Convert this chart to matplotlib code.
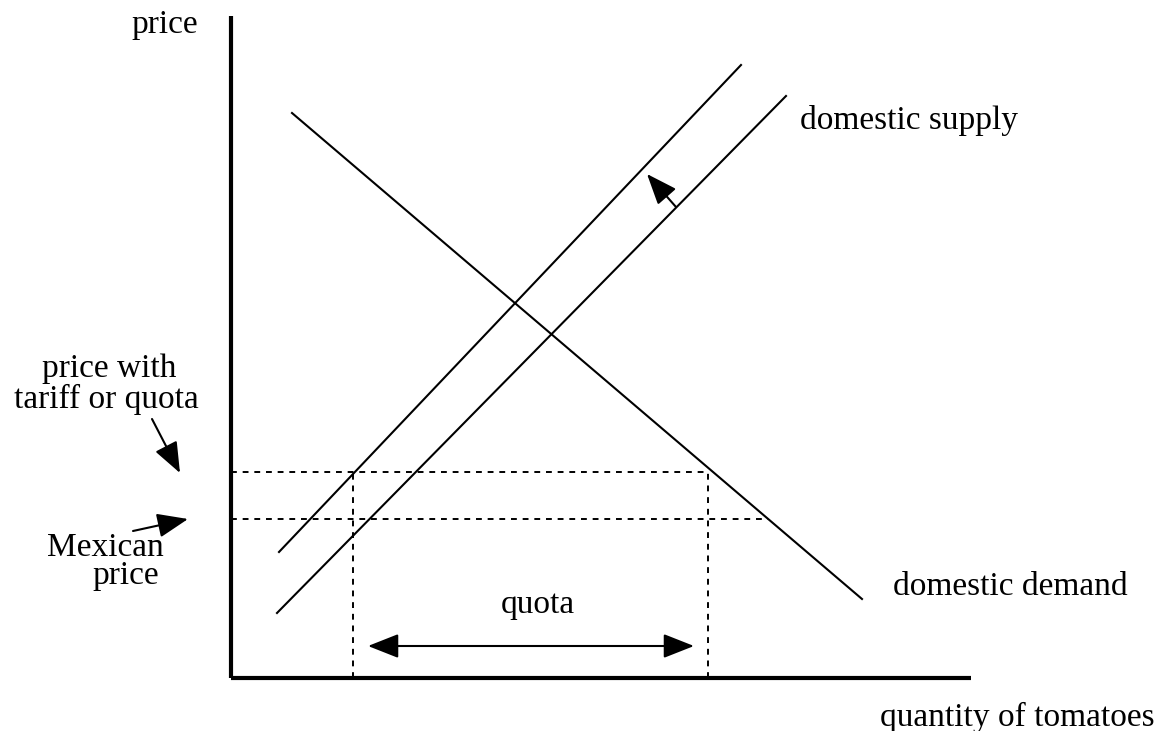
import matplotlib
matplotlib.use("Agg")
import matplotlib.pyplot as plt
from matplotlib.patches import FancyArrowPatch

# Data (quantity, price) in diagram units, origin at the axes corner
demand_q = [61, 631]
demand_p = [565, 79]
supply_q = [46, 555]
supply_p = [65, 582]
shifted_q = [48, 510]
shifted_p = [126, 613]

mexican_price = 159
tariff_price = 206
quota_left = 122
quota_right = 477
mexican_demand_q = 537

axis_q_max = 740
axis_p_max = 662

plt.rcParams["font.family"] = ["Liberation Serif", "DejaVu Serif"]
FS = 24

fig = plt.figure(figsize=(11.69, 7.31), dpi=100)
ax = fig.add_axes([0, 0, 1, 1])
ax.set_xlim(-231, 938)
ax.set_ylim(-53, 678)
ax.axis("off")

# axes
ax.plot([0, 0], [0, axis_p_max], color="black", lw=3, solid_capstyle="butt")
ax.plot([0, axis_q_max], [0, 0], color="black", lw=3, solid_capstyle="butt")

# curves
for q, p in [(demand_q, demand_p), (supply_q, supply_p), (shifted_q, shifted_p)]:
    ax.plot(q, p, color="black", lw=1.5)

# dashed guide lines
dash = dict(color="black", lw=1.4, linestyle=(0, (3, 3)))
ax.plot([0, quota_right], [tariff_price, tariff_price], **dash)
ax.plot([0, mexican_demand_q], [mexican_price, mexican_price], **dash)
ax.plot([quota_left, quota_left], [0, tariff_price], **dash)
ax.plot([quota_right, quota_right], [0, tariff_price], **dash)


def arrow(start, end, style="-|>", hl=19, hw=7.5):
    a = FancyArrowPatch(start, end,
                        arrowstyle=f"{style},head_length={hl},head_width={hw}",
                        mutation_scale=1, color="black", lw=1.5,
                        shrinkA=0, shrinkB=0)
    ax.add_patch(a)


# quota double arrow
arrow((137, 32), (463, 32), style="<|-|>")
# supply shift arrow
arrow((445, 471), (416, 504))
# left pointer arrows
arrow((-79, 259), (-51, 205))
arrow((-98, 147), (-43, 159))

# labels
ax.text(-66, 653, "price", fontsize=FS, ha="center", va="center")
ax.text(-122, 309, "price with", fontsize=FS, ha="center", va="center")
ax.text(-125, 279, "tariff or quota", fontsize=FS, ha="center", va="center")
ax.text(-126, 130, "Mexican", fontsize=FS, ha="center", va="center")
ax.text(-105, 102, "price", fontsize=FS, ha="center", va="center")
ax.text(307, 73, "quota", fontsize=FS, ha="center", va="center")
ax.text(569, 558, "domestic supply", fontsize=FS, ha="left", va="center")
ax.text(662, 91, "domestic demand", fontsize=FS, ha="left", va="center")
ax.text(649, -39, "quantity of tomatoes", fontsize=FS, ha="left", va="center")

fig.savefig("out.png", dpi=100)
